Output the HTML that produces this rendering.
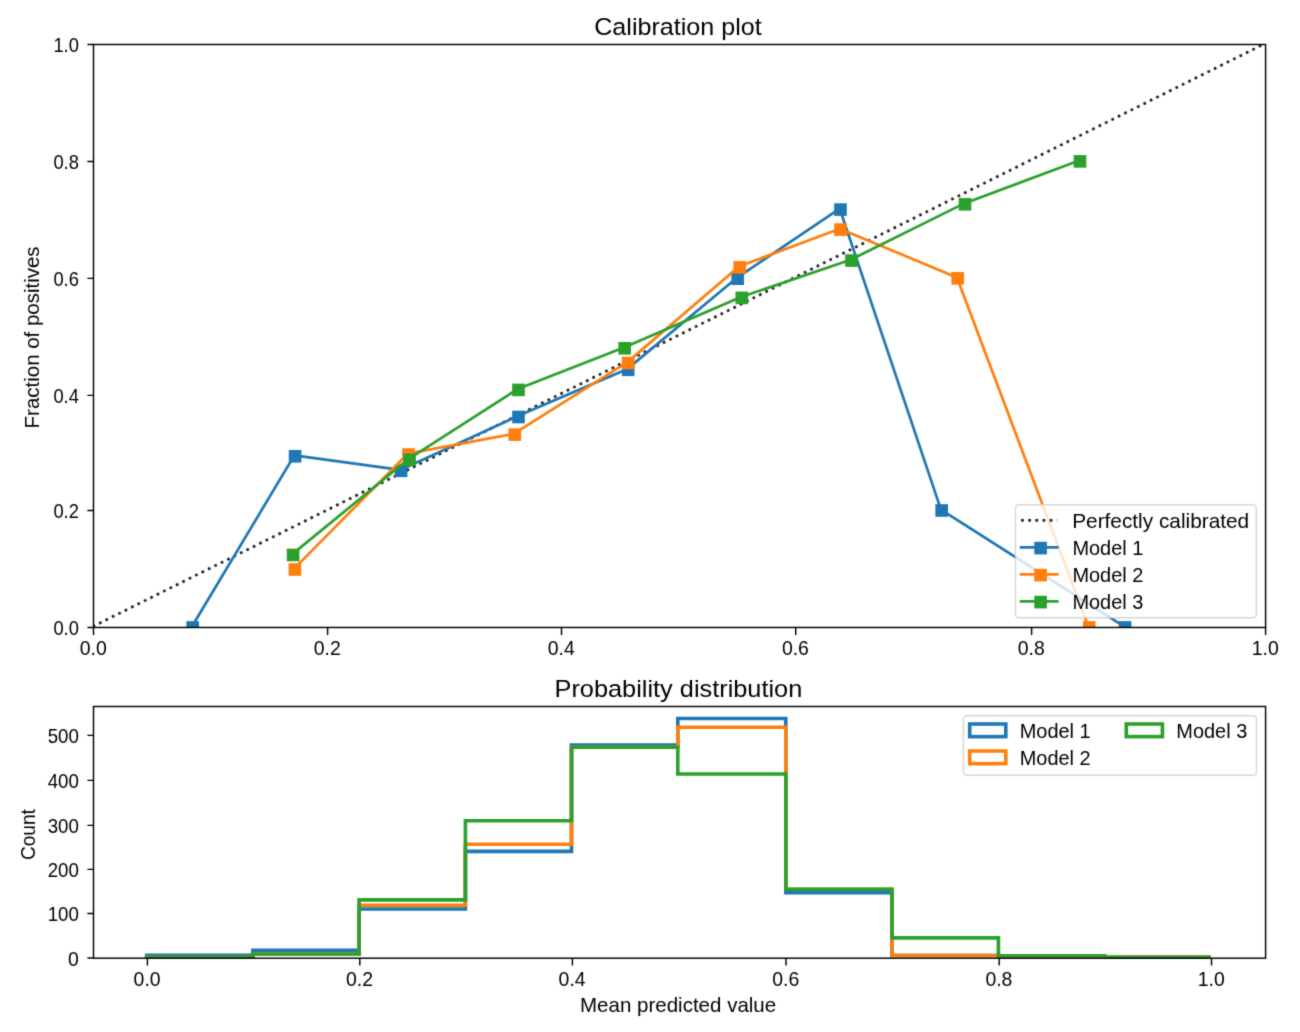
<!DOCTYPE html><html><head><meta charset="utf-8"><title>Calibration plot</title><style>html,body{margin:0;padding:0;background:#fff;overflow:hidden;}svg{display:block;}text{font-family:"Liberation Sans", sans-serif;fill:#000;}</style></head><body>
<svg width="1300" height="1032" viewBox="0 0 1300 1032">
<filter id="bl" x="0" y="0" width="1300" height="1032" filterUnits="userSpaceOnUse" color-interpolation-filters="sRGB"><feConvolveMatrix order="3" kernelMatrix="0.01917 0.10012 0.01917 0.10012 0.52283 0.10012 0.01917 0.10012 0.01917" edgeMode="duplicate"/></filter>
<g filter="url(#bl)">
<rect x="0" y="0" width="1300" height="1032" fill="#fff"/>
<defs><clipPath id="c1"><rect x="93.5" y="44.5" width="1172.1" height="582.96"/></clipPath>
<clipPath id="c2"><rect x="93.5" y="706.5" width="1172.1" height="251.7"/></clipPath></defs>
<g clip-path="url(#c1)">
<line x1="92.75" y1="626.56" x2="1264.85" y2="43.6" stroke="#222" stroke-width="2.71" stroke-dasharray="2.7 4.456" stroke-dashoffset="0.09" stroke-linecap="butt"/>
<polyline points="191.95,626.56 294.35,455.4 400.35,469.9 517.75,416.1 627.45,368.9 736.95,277.8 839.75,208.7 940.95,509.6 1124.35,626.56" fill="none" stroke="#1f77b4" stroke-width="2.71" stroke-linejoin="round" stroke-linecap="butt"/>
<rect x="187.28" y="622.04" width="10.83" height="10.83" fill="#1f77b4" stroke="#1f77b4" stroke-width="1.81"/>
<rect x="289.68" y="450.88" width="10.83" height="10.83" fill="#1f77b4" stroke="#1f77b4" stroke-width="1.81"/>
<rect x="395.68" y="465.38" width="10.83" height="10.83" fill="#1f77b4" stroke="#1f77b4" stroke-width="1.81"/>
<rect x="513.08" y="411.58" width="10.83" height="10.83" fill="#1f77b4" stroke="#1f77b4" stroke-width="1.81"/>
<rect x="622.78" y="364.38" width="10.83" height="10.83" fill="#1f77b4" stroke="#1f77b4" stroke-width="1.81"/>
<rect x="732.28" y="273.28" width="10.83" height="10.83" fill="#1f77b4" stroke="#1f77b4" stroke-width="1.81"/>
<rect x="835.08" y="204.18" width="10.83" height="10.83" fill="#1f77b4" stroke="#1f77b4" stroke-width="1.81"/>
<rect x="936.28" y="505.08" width="10.83" height="10.83" fill="#1f77b4" stroke="#1f77b4" stroke-width="1.81"/>
<rect x="1119.68" y="622.04" width="10.83" height="10.83" fill="#1f77b4" stroke="#1f77b4" stroke-width="1.81"/>
<polyline points="294.15,568.6 407.75,453.7 514.05,433.7 627.45,362.1 739.05,266.5 839.75,228.7 956.95,277.4 1088.45,626.56" fill="none" stroke="#ff7f0e" stroke-width="2.71" stroke-linejoin="round" stroke-linecap="butt"/>
<rect x="289.48" y="564.08" width="10.83" height="10.83" fill="#ff7f0e" stroke="#ff7f0e" stroke-width="1.81"/>
<rect x="403.08" y="449.18" width="10.83" height="10.83" fill="#ff7f0e" stroke="#ff7f0e" stroke-width="1.81"/>
<rect x="509.38" y="429.18" width="10.83" height="10.83" fill="#ff7f0e" stroke="#ff7f0e" stroke-width="1.81"/>
<rect x="622.78" y="357.58" width="10.83" height="10.83" fill="#ff7f0e" stroke="#ff7f0e" stroke-width="1.81"/>
<rect x="734.38" y="261.98" width="10.83" height="10.83" fill="#ff7f0e" stroke="#ff7f0e" stroke-width="1.81"/>
<rect x="835.08" y="224.18" width="10.83" height="10.83" fill="#ff7f0e" stroke="#ff7f0e" stroke-width="1.81"/>
<rect x="952.28" y="272.88" width="10.83" height="10.83" fill="#ff7f0e" stroke="#ff7f0e" stroke-width="1.81"/>
<rect x="1083.78" y="622.04" width="10.83" height="10.83" fill="#ff7f0e" stroke="#ff7f0e" stroke-width="1.81"/>
<polyline points="292.35,554.1 408.85,458.8 517.75,389 623.95,347.4 741.05,297 850.75,259.7 964.25,203.4 1079.25,160.5" fill="none" stroke="#2ca02c" stroke-width="2.71" stroke-linejoin="round" stroke-linecap="butt"/>
<rect x="287.68" y="549.58" width="10.83" height="10.83" fill="#2ca02c" stroke="#2ca02c" stroke-width="1.81"/>
<rect x="404.18" y="454.28" width="10.83" height="10.83" fill="#2ca02c" stroke="#2ca02c" stroke-width="1.81"/>
<rect x="513.08" y="384.48" width="10.83" height="10.83" fill="#2ca02c" stroke="#2ca02c" stroke-width="1.81"/>
<rect x="619.28" y="342.88" width="10.83" height="10.83" fill="#2ca02c" stroke="#2ca02c" stroke-width="1.81"/>
<rect x="736.38" y="292.48" width="10.83" height="10.83" fill="#2ca02c" stroke="#2ca02c" stroke-width="1.81"/>
<rect x="846.08" y="255.18" width="10.83" height="10.83" fill="#2ca02c" stroke="#2ca02c" stroke-width="1.81"/>
<rect x="959.58" y="198.88" width="10.83" height="10.83" fill="#2ca02c" stroke="#2ca02c" stroke-width="1.81"/>
<rect x="1074.58" y="155.98" width="10.83" height="10.83" fill="#2ca02c" stroke="#2ca02c" stroke-width="1.81"/>
</g>
<rect x="93.5" y="44.5" width="1172.1" height="582.96" fill="none" stroke="#000" stroke-width="1.44"/>
<path d="M93.5 627.46V635.06M93.5 627.46H87.4M327.6 627.46V635.06M93.5 510.47H87.4M561.5 627.46V635.06M93.5 395.37H87.4M795.7 627.46V635.06M93.5 278.37H87.4M1031.6 627.46V635.06M93.5 161.43H87.4M1265.6 627.46V635.06M93.5 44.5H87.4" stroke="#000" stroke-width="1.44" fill="none"/>
<text x="93.2" y="655.36" font-size="20.4" text-anchor="middle" textLength="27" lengthAdjust="spacingAndGlyphs">0.0</text>
<text x="78.9" y="635.26" font-size="20.4" text-anchor="end" textLength="25.5" lengthAdjust="spacingAndGlyphs">0.0</text>
<text x="327.3" y="655.36" font-size="20.4" text-anchor="middle" textLength="27" lengthAdjust="spacingAndGlyphs">0.2</text>
<text x="78.9" y="518.27" font-size="20.4" text-anchor="end" textLength="25.5" lengthAdjust="spacingAndGlyphs">0.2</text>
<text x="561.2" y="655.36" font-size="20.4" text-anchor="middle" textLength="27" lengthAdjust="spacingAndGlyphs">0.4</text>
<text x="78.9" y="403.17" font-size="20.4" text-anchor="end" textLength="25.5" lengthAdjust="spacingAndGlyphs">0.4</text>
<text x="795.4" y="655.36" font-size="20.4" text-anchor="middle" textLength="27" lengthAdjust="spacingAndGlyphs">0.6</text>
<text x="78.9" y="286.17" font-size="20.4" text-anchor="end" textLength="25.5" lengthAdjust="spacingAndGlyphs">0.6</text>
<text x="1031.3" y="655.36" font-size="20.4" text-anchor="middle" textLength="27" lengthAdjust="spacingAndGlyphs">0.8</text>
<text x="78.9" y="169.23" font-size="20.4" text-anchor="end" textLength="25.5" lengthAdjust="spacingAndGlyphs">0.8</text>
<text x="1265.3" y="655.36" font-size="20.4" text-anchor="middle" textLength="27" lengthAdjust="spacingAndGlyphs">1.0</text>
<text x="78.9" y="52.3" font-size="20.4" text-anchor="end" textLength="25.5" lengthAdjust="spacingAndGlyphs">1.0</text>
<text x="678" y="34.5" font-size="24.48" text-anchor="middle" textLength="167.6" lengthAdjust="spacingAndGlyphs">Calibration plot</text>
<text x="0" y="0" font-size="20.4" text-anchor="middle" textLength="182" lengthAdjust="spacingAndGlyphs" transform="translate(38.6 337.4) rotate(-90)">Fraction of positives</text>
<rect x="1015.5" y="504.8" width="240.8" height="113" rx="3.6" ry="3.6" fill="#fff" fill-opacity="0.8" stroke="#ccc" stroke-opacity="0.8" stroke-width="1.44"/>
<line x1="1021.1" y1="520.4" x2="1057.2" y2="520.4" stroke="#222" stroke-width="2.71" stroke-dasharray="2.7 4.456"/>
<text x="1072.2" y="527.7" font-size="20.4" text-anchor="start" textLength="177" lengthAdjust="spacingAndGlyphs">Perfectly calibrated</text>
<line x1="1021.1" y1="547.4" x2="1057.2" y2="547.4" stroke="#1f77b4" stroke-width="2.71" stroke-linecap="square"/>
<rect x="1035.18" y="542.68" width="10.83" height="10.83" fill="#1f77b4" stroke="#1f77b4" stroke-width="1.81"/>
<text x="1072.4" y="554.7" font-size="20.4" text-anchor="start" textLength="71" lengthAdjust="spacingAndGlyphs">Model 1</text>
<line x1="1021.1" y1="574.4" x2="1057.2" y2="574.4" stroke="#ff7f0e" stroke-width="2.71" stroke-linecap="square"/>
<rect x="1035.18" y="569.68" width="10.83" height="10.83" fill="#ff7f0e" stroke="#ff7f0e" stroke-width="1.81"/>
<text x="1072.4" y="581.7" font-size="20.4" text-anchor="start" textLength="71" lengthAdjust="spacingAndGlyphs">Model 2</text>
<line x1="1021.1" y1="601.4" x2="1057.2" y2="601.4" stroke="#2ca02c" stroke-width="2.71" stroke-linecap="square"/>
<rect x="1035.18" y="596.68" width="10.83" height="10.83" fill="#2ca02c" stroke="#2ca02c" stroke-width="1.81"/>
<text x="1072.4" y="608.7" font-size="20.4" text-anchor="start" textLength="71" lengthAdjust="spacingAndGlyphs">Model 3</text>
<g clip-path="url(#c2)">
<path d="M146.7 961 L146.7 955.4 L252.9 955.4 L252.9 950.3 L359.1 950.3 L359.1 909 L465.4 909 L465.4 851.4 L571.5 851.4 L571.5 745 L677.8 745 L677.8 718.5 L785.8 718.5 L785.8 892.7 L892 892.7 L892 955.5 L998.4 955.5 L998.4 955.7 L1104.5 955.7 L1104.5 957.4 L1209 957.4 L1209 961" fill="none" stroke="#1f77b4" stroke-width="3.61" stroke-linejoin="miter" stroke-linecap="butt"/>
<path d="M146.7 961 L146.7 957.4 L252.9 957.4 L252.9 954 L359.1 954 L359.1 905.3 L465.4 905.3 L465.4 844.2 L571.5 844.2 L571.5 747.2 L677.8 747.2 L677.8 727.3 L785.8 727.3 L785.8 889.2 L892 889.2 L892 955.5 L998.4 955.5 L998.4 955.7 L1104.5 955.7 L1104.5 957.4 L1209 957.4 L1209 961" fill="none" stroke="#ff7f0e" stroke-width="3.61" stroke-linejoin="miter" stroke-linecap="butt"/>
<path d="M146.7 961 L146.7 957.4 L252.9 957.4 L252.9 954 L359.1 954 L359.1 899.9 L465.4 899.9 L465.4 820.8 L571.5 820.8 L571.5 747.2 L677.8 747.2 L677.8 774 L785.8 774 L785.8 889.2 L892 889.2 L892 937.9 L998.4 937.9 L998.4 955.7 L1104.5 955.7 L1104.5 957.4 L1209 957.4 L1209 961" fill="none" stroke="#2ca02c" stroke-width="3.61" stroke-linejoin="miter" stroke-linecap="butt"/>
</g>
<rect x="93.5" y="706.5" width="1172.1" height="251.7" fill="none" stroke="#000" stroke-width="1.44"/>
<path d="M147.4 958.2V965.6M93.5 958H87.4M359.8 958.2V965.6M93.5 913.47H87.4M572.4 958.2V965.6M93.5 869.4H87.4M786 958.2V965.6M93.5 825.37H87.4M999.2 958.2V965.6M93.5 780.4H87.4M1211.5 958.2V965.6M93.5 735.37H87.4" stroke="#000" stroke-width="1.44" fill="none"/>
<text x="147.1" y="985.5" font-size="20.4" text-anchor="middle" textLength="27" lengthAdjust="spacingAndGlyphs">0.0</text>
<text x="78.9" y="965.8" font-size="20.4" text-anchor="end" textLength="10.8" lengthAdjust="spacingAndGlyphs">0</text>
<text x="359.5" y="985.5" font-size="20.4" text-anchor="middle" textLength="27" lengthAdjust="spacingAndGlyphs">0.2</text>
<text x="78.9" y="921.27" font-size="20.4" text-anchor="end" textLength="31.2" lengthAdjust="spacingAndGlyphs">100</text>
<text x="572.1" y="985.5" font-size="20.4" text-anchor="middle" textLength="27" lengthAdjust="spacingAndGlyphs">0.4</text>
<text x="78.9" y="877.2" font-size="20.4" text-anchor="end" textLength="31.2" lengthAdjust="spacingAndGlyphs">200</text>
<text x="785.7" y="985.5" font-size="20.4" text-anchor="middle" textLength="27" lengthAdjust="spacingAndGlyphs">0.6</text>
<text x="78.9" y="833.17" font-size="20.4" text-anchor="end" textLength="31.2" lengthAdjust="spacingAndGlyphs">300</text>
<text x="998.9" y="985.5" font-size="20.4" text-anchor="middle" textLength="27" lengthAdjust="spacingAndGlyphs">0.8</text>
<text x="78.9" y="788.2" font-size="20.4" text-anchor="end" textLength="31.2" lengthAdjust="spacingAndGlyphs">400</text>
<text x="1211.2" y="985.5" font-size="20.4" text-anchor="middle" textLength="27" lengthAdjust="spacingAndGlyphs">1.0</text>
<text x="78.9" y="743.17" font-size="20.4" text-anchor="end" textLength="31.2" lengthAdjust="spacingAndGlyphs">500</text>
<text x="678.4" y="696.5" font-size="24.48" text-anchor="middle" textLength="247.8" lengthAdjust="spacingAndGlyphs">Probability distribution</text>
<text x="678.1" y="1011.8" font-size="20.4" text-anchor="middle" textLength="196.2" lengthAdjust="spacingAndGlyphs">Mean predicted value</text>
<text x="0" y="0" font-size="20.4" text-anchor="middle" textLength="51" lengthAdjust="spacingAndGlyphs" transform="translate(35.05 834.6) rotate(-90)">Count</text>
<rect x="963.4" y="715.8" width="293.1" height="59.4" rx="3.6" ry="3.6" fill="#fff" fill-opacity="0.8" stroke="#ccc" stroke-opacity="0.8" stroke-width="1.44"/>
<rect x="969.7" y="724" width="36.11" height="12.64" fill="none" stroke="#1f77b4" stroke-width="3.61"/>
<text x="1019.7" y="738.4" font-size="20.4" text-anchor="start" textLength="71" lengthAdjust="spacingAndGlyphs">Model 1</text>
<rect x="969.7" y="751" width="36.11" height="12.64" fill="none" stroke="#ff7f0e" stroke-width="3.61"/>
<text x="1019.7" y="765.4" font-size="20.4" text-anchor="start" textLength="71" lengthAdjust="spacingAndGlyphs">Model 2</text>
<rect x="1126.3" y="724" width="36.11" height="12.64" fill="none" stroke="#2ca02c" stroke-width="3.61"/>
<text x="1176.3" y="738.4" font-size="20.4" text-anchor="start" textLength="71" lengthAdjust="spacingAndGlyphs">Model 3</text>
</g></svg></body></html>
